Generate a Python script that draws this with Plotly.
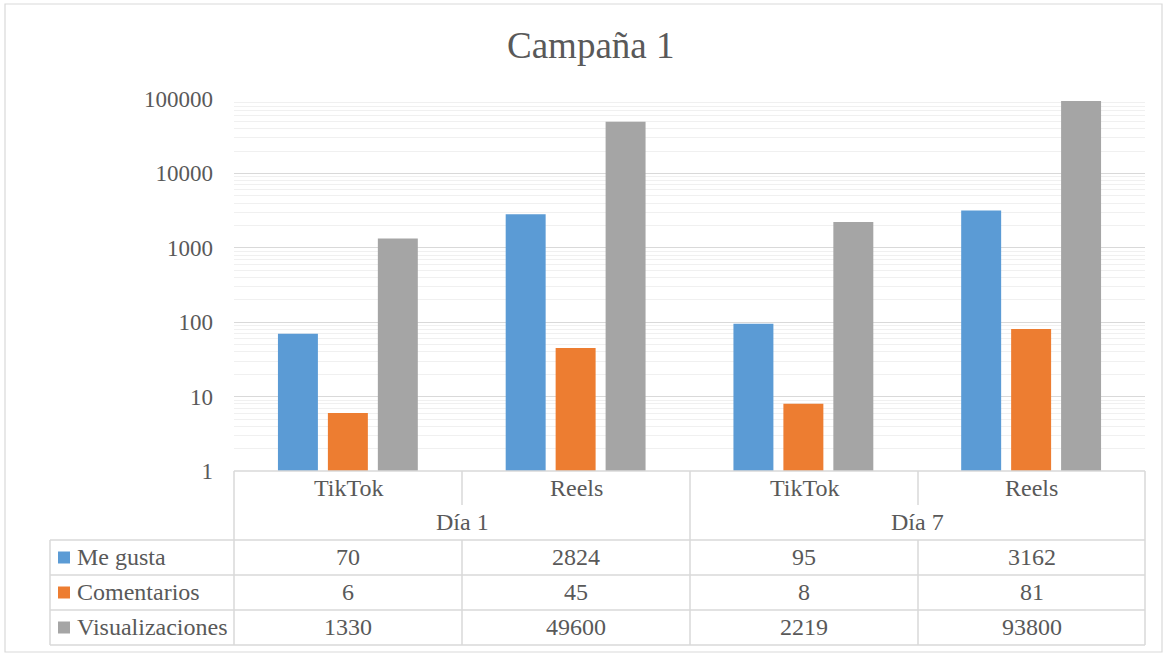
import plotly.graph_objects as go

title = "Campaña 1"
days = ["Día 1", "Día 7"]
platforms = ["TikTok", "Reels", "TikTok", "Reels"]
series_names = ["Me gusta", "Comentarios", "Visualizaciones"]
me_gusta = [70, 2824, 95, 3162]
comentarios = [6, 45, 8, 81]
visualizaciones = [1330, 49600, 2219, 93800]
colors = ["#5B9BD5", "#ED7D31", "#A5A5A5"]
y_tick_vals = [1, 10, 100, 1000, 10000, 100000]
y_tick_text = ["1", "10", "100", "1000", "10000", "100000"]

W, H = 1167, 657
L, R, T, B = 234, 1145, 99, 471
FONT = "Liberation Serif, Times New Roman, DejaVu Serif, serif"
TXT = "#595959"
LINE = "#d9d9d9"

def px(x):
    return (x - L) / (R - L)

def py(y):
    return (B - y) / (B - T)

xs = list(range(len(platforms)))
series = [me_gusta, comentarios, visualizaciones]

fig = go.Figure()
for name, vals, c in zip(series_names, series, colors):
    fig.add_trace(go.Bar(x=xs, y=vals, name=name, marker=dict(color=c, line=dict(width=0))))

shapes = []
annotations = []

def hline(x0, x1, y):
    shapes.append(dict(type="line", xref="paper", yref="paper", x0=px(x0), x1=px(x1),
                       y0=py(y), y1=py(y), line=dict(color=LINE, width=1.5)))

def vline(x, y0, y1):
    shapes.append(dict(type="line", xref="paper", yref="paper", x0=px(x), x1=px(x),
                       y0=py(y0), y1=py(y1), line=dict(color=LINE, width=1.5)))

# outer chart border
shapes.append(dict(type="rect", xref="paper", yref="paper", x0=px(5), x1=px(1162),
                   y0=py(652), y1=py(4), line=dict(color="#d9d9d9", width=1.2)))

col_edges = [234, 462, 690, 918, 1145]
rows = [540, 575, 610, 645]

# table lines
hline(234, 1145, 471)
for y in rows:
    hline(50, 1145, y)
vline(50, 540, 645)
for i, x in enumerate(col_edges):
    if i in (0, 2, 4):
        vline(x, 471, 645)
    else:
        vline(x, 471, 505)
        vline(x, 540, 645)

def text(x, y, s, xanchor="center", size=24):
    annotations.append(dict(xref="paper", yref="paper", x=px(x), y=py(y), text=s,
                            showarrow=False, xanchor=xanchor, yanchor="middle",
                            font=dict(family=FONT, size=size, color=TXT)))

centers = [(col_edges[i] + col_edges[i + 1]) / 2 for i in range(4)]
for cx, p in zip(centers, platforms):
    text(cx, 488, p)
for d, k in enumerate(days):
    text((col_edges[2 * d] + col_edges[2 * d + 2]) / 2, 522, k)

for r, (name, vals, c) in enumerate(zip(series_names, series, colors)):
    yc = (rows[r] + rows[r + 1]) / 2
    shapes.append(dict(type="rect", xref="paper", yref="paper", x0=px(58), x1=px(70),
                       y0=py(yc + 6), y1=py(yc - 6), fillcolor=c, line=dict(width=0)))
    text(75, yc - 1, name, xanchor="left")
    for cx, v in zip(centers, vals):
        text(cx, yc - 1, str(v))

annotations.append(dict(xref="paper", yref="paper", x=px(590), y=py(46), text=title,
                        showarrow=False, xanchor="center", yanchor="middle",
                        font=dict(family=FONT, size=37, color=TXT)))

fig.update_layout(
    width=W, height=H,
    margin=dict(l=L, r=W - R, t=T, b=H - B, pad=0),
    paper_bgcolor="white", plot_bgcolor="white",
    barmode="group", bargap=0.342, bargroupgap=0.2,
    showlegend=False,
    shapes=shapes, annotations=annotations,
    font=dict(family=FONT, size=24, color=TXT),
    xaxis=dict(range=[-0.5, 3.5], showticklabels=False, showgrid=False, zeroline=False,
               ticks="", fixedrange=True),
    yaxis=dict(type="log", range=[0, 5], tickvals=y_tick_vals, ticktext=y_tick_text,
               showgrid=True, gridcolor="#d9d9d9", gridwidth=1, zeroline=False,
               ticks="", ticklabelstandoff=20,
               tickfont=dict(family=FONT, size=23, color=TXT),
               minor=dict(showgrid=True, dtick="D1", gridcolor="#f0f0f0", gridwidth=1)),
)

fig.write_html("out.html", config={"displayModeBar": False})
with open("out.html", encoding="utf-8") as f:
    html = f.read()
html = html.replace("<head>", "<head><style>html,body{margin:0;padding:0;overflow:hidden;}</style>", 1)
with open("out.html", "w", encoding="utf-8") as f:
    f.write(html)
